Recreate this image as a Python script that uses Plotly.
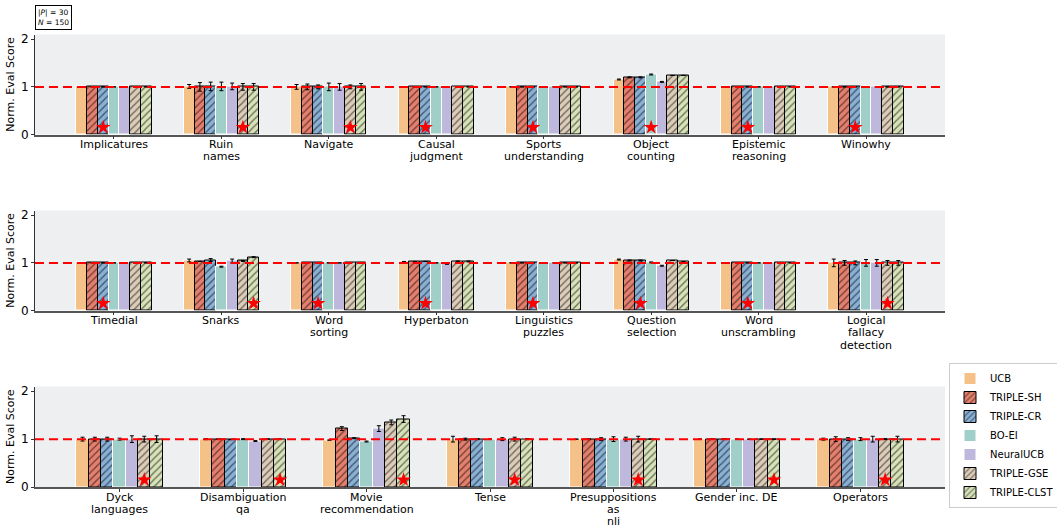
import plotly.graph_objects as go

# Methods compared in every panel
methods = ["UCB", "TRIPLE-SH", "TRIPLE-CR", "BO-EI", "NeuralUCB", "TRIPLE-GSE", "TRIPLE-CLST"]
colors = ["#f4c188", "#e5806e", "#89b0d5", "#a0cfca", "#beb8dc", "#dccdb9", "#d7e2b9"]
hatched = [False, True, True, False, False, True, True]

# Row 1 tasks
r1_tasks = ["Implicatures", "Ruin<br>names", "Navigate", "Causal<br>judgment", "Sports<br>understanding",
            "Object<br>counting", "Epistemic<br>reasoning", "Winowhy"]
r1_mean = [
    [1.0, 1.01, 1.0, 1.0, 1.0, 1.155, 1.0, 1.0],
    [1.0, 1.0, 1.0, 1.0, 1.0, 1.20, 1.0, 1.0],
    [1.0, 1.01, 1.0, 1.0, 1.0, 1.20, 1.0, 1.0],
    [1.0, 1.01, 1.0, 1.0, 1.0, 1.26, 1.0, 1.0],
    [1.0, 1.01, 1.0, 1.0, 1.0, 1.105, 1.0, 1.0],
    [1.0, 1.0, 1.0, 1.0, 1.0, 1.24, 1.0, 1.0],
    [1.0, 1.0, 1.0, 1.0, 1.0, 1.24, 1.0, 1.0],
]
r1_err = [
    [0.0, 0.04, 0.05, 0.0, 0.0, 0.01, 0.0, 0.0],
    [0.0, 0.09, 0.06, 0.0, 0.0, 0.01, 0.0, 0.0],
    [0.0, 0.09, 0.04, 0.0, 0.0, 0.01, 0.0, 0.0],
    [0.0, 0.09, 0.08, 0.0, 0.0, 0.01, 0.0, 0.0],
    [0.0, 0.07, 0.07, 0.0, 0.0, 0.01, 0.0, 0.0],
    [0.0, 0.07, 0.04, 0.0, 0.0, 0.0, 0.0, 0.0],
    [0.0, 0.07, 0.07, 0.0, 0.0, 0.0, 0.0, 0.0],
]
r1_best = [2, 5, 5, 2, 2, 3, 2, 2]

# Row 2 tasks
r2_tasks = ["Timedial", "Snarks", "Word<br>sorting", "Hyperbaton", "Linguistics<br>puzzles",
            "Question<br>selection", "Word<br>unscrambling", "Logical<br>fallacy<br>detection"]
r2_mean = [
    [1.0, 1.05, 1.0, 1.02, 1.0, 1.07, 1.0, 1.0],
    [1.0, 1.03, 1.0, 1.02, 1.0, 1.05, 1.0, 1.0],
    [1.0, 1.06, 1.0, 1.03, 1.0, 1.05, 1.0, 1.0],
    [1.0, 0.92, 1.0, 1.0, 1.0, 1.01, 1.0, 1.0],
    [1.0, 1.04, 1.0, 0.98, 1.0, 0.94, 1.0, 1.0],
    [1.0, 1.04, 1.0, 1.03, 1.0, 1.05, 1.0, 1.0],
    [1.0, 1.12, 1.0, 1.03, 1.0, 1.02, 1.0, 1.0],
]
r2_err = [
    [0.0, 0.03, 0.0, 0.01, 0.0, 0.01, 0.0, 0.08],
    [0.0, 0.0, 0.0, 0.0, 0.0, 0.01, 0.0, 0.05],
    [0.0, 0.03, 0.0, 0.0, 0.0, 0.01, 0.0, 0.04],
    [0.0, 0.01, 0.0, 0.0, 0.0, 0.01, 0.0, 0.07],
    [0.0, 0.04, 0.0, 0.01, 0.0, 0.01, 0.0, 0.07],
    [0.0, 0.01, 0.0, 0.01, 0.0, 0.0, 0.0, 0.05],
    [0.0, 0.01, 0.0, 0.01, 0.0, 0.01, 0.0, 0.05],
]
r2_best = [2, 6, 2, 2, 2, 2, 2, 5]

# Row 3 tasks
r3_tasks = ["Dyck<br>languages", "Disambiguation<br>qa", "Movie<br>recommendation", "Tense",
            "Presuppositions<br>as<br>nli", "Gender inc. DE", "Operators"]
r3_mean = [
    [1.0, 1.0, 0.98, 1.0, 1.0, 1.0, 1.0],
    [1.0, 1.0, 1.22, 1.0, 1.0, 1.0, 1.0],
    [1.0, 0.99, 1.02, 1.0, 1.0, 1.0, 1.0],
    [1.0, 1.0, 0.95, 1.0, 1.0, 1.0, 1.0],
    [1.0, 0.96, 1.22, 1.0, 1.0, 1.0, 1.0],
    [1.0, 1.0, 1.35, 1.0, 1.0, 1.0, 1.0],
    [1.0, 1.0, 1.42, 1.0, 1.0, 1.0, 1.0],
]
r3_err = [
    [0.04, 0.01, 0.0, 0.06, 0.0, 0.0, 0.02],
    [0.04, 0.0, 0.04, 0.02, 0.01, 0.0, 0.05],
    [0.04, 0.0, 0.01, 0.01, 0.03, 0.0, 0.03],
    [0.02, 0.01, 0.01, 0.0, 0.05, 0.0, 0.03],
    [0.07, 0.01, 0.06, 0.03, 0.04, 0.0, 0.06],
    [0.06, 0.0, 0.05, 0.04, 0.06, 0.0, 0.01],
    [0.07, 0.0, 0.07, 0.01, 0.0, 0.0, 0.06],
]
r3_best = [5, 6, 6, 5, 5, 6, 5]

star_y = 0.15
bar_w = 0.1
rows = [
    (r1_tasks, r1_mean, r1_err, r1_best),
    (r2_tasks, r2_mean, r2_err, r2_best),
    (r3_tasks, r3_mean, r3_err, r3_best),
]

W, H = 1057, 527
ml, mr, mt, mb = 35, 112, 34, 40
plot_h = H - mt - mb


def ydom(top_px, bot_px):
    return [(H - mb - bot_px) / plot_h, (H - mb - top_px) / plot_h]


domains = [ydom(34.5, 134.5), ydom(210.5, 310.5), ydom(386.5, 487)]

fig = go.Figure()
font = dict(family="DejaVu Sans", size=11, color="#000000")
line_gap = 12.2  # px between lines of a category label

for r, (tasks, mean, err, best) in enumerate(rows):
    sfx = "" if r == 0 else str(r + 1)
    xa, ya = "x" + sfx, "y" + sfx
    n = len(tasks)
    for k, name in enumerate(methods):
        off = (k - 3) * bar_w
        marker = dict(color=colors[k],
                      line=dict(color="#000000" if hatched[k] else "#ffffff", width=1))
        if hatched[k]:
            marker["pattern"] = dict(shape="/", fgcolor="#000000", fillmode="overlay",
                                     size=5, solidity=0.28)
        fig.add_trace(go.Bar(
            x=[i + off for i in range(n)], y=mean[k], width=bar_w,
            marker=marker, name=name, legendgroup=name, showlegend=(r == 0),
            error_y=dict(type="data", array=err[k], color="#000000", thickness=1, width=2),
            xaxis=xa, yaxis=ya,
        ))
    fig.add_trace(go.Scatter(
        x=[i + (best[i] - 3) * bar_w for i in range(n)], y=[star_y] * n,
        mode="markers", marker=dict(symbol="star", size=11, color="#ff0000", line=dict(width=0)),
        showlegend=False, xaxis=xa, yaxis=ya, hoverinfo="skip",
    ))
    # reference level of 1.0
    fig.add_shape(type="line", xref=xa + " domain", yref=ya, x0=0, x1=1, y0=1, y1=1,
                  line=dict(color="#ff0000", width=2, dash="9px,5px"), layer="above")
    # category names, one text line per annotation for tight line spacing
    for i, label in enumerate(tasks):
        for j, part in enumerate(label.split("<br>")):
            fig.add_annotation(
                xref=xa, yref=ya + " domain", x=i, y=0, xanchor="center", yanchor="middle",
                yshift=-(10.2 + line_gap * j), text=part, showarrow=False, font=font,
                borderpad=0, height=11,
            )
    pad = 0.35 + 0.05 * (n - 1 + 0.7)
    xkey = "xaxis" + sfx
    ykey = "yaxis" + sfx
    fig.layout[xkey] = dict(
        domain=[0, 1], anchor=ya, range=[-pad, n - 1 + pad],
        tickmode="array", tickvals=list(range(n)), showticklabels=False,
        ticks="outside", ticklen=3, tickcolor="#333333",
        showline=True, linecolor="#555555", linewidth=1.5, showgrid=False, zeroline=False,
        automargin=False,
    )
    fig.layout[ykey] = dict(
        domain=domains[r], anchor=xa, range=[0, 2.1],
        tickvals=[0, 1, 2], ticks="outside", ticklen=3, tickcolor="#333333",
        showline=True, linecolor="#333333", linewidth=1, showgrid=False, zeroline=False,
        tickfont=dict(family="DejaVu Sans", size=12, color="#000000"),
        title=dict(text="Norm. Eval Score", font=font, standoff=4), automargin=False,
    )

fig.add_annotation(
    xref="paper", yref="paper", x=(53 - ml) / (W - ml - mr), y=(H - mb - 17) / plot_h,
    xanchor="center", yanchor="middle",
    text="|<i>P</i>| = 30<br><i>N</i> = 150", showarrow=False,
    font=dict(family="DejaVu Sans", size=7.5, color="#000000"),
    bordercolor="#000000", borderwidth=1, borderpad=2, bgcolor="#ffffff", align="left",
)

fig.update_layout(
    width=W, height=H,
    margin=dict(l=ml, r=mr, t=mt, b=mb, autoexpand=False),
    paper_bgcolor="#ffffff", plot_bgcolor="#eeeff1",
    barmode="overlay", bargap=0,
    font=font,
    legend=dict(
        xref="container", yref="container",
        x=949 / W, y=1 - 435.5 / H,
        xanchor="left", yanchor="middle",
        bordercolor="#cccccc", borderwidth=1, bgcolor="#ffffff",
        font=dict(family="DejaVu Sans", size=10, color="#000000"),
        tracegroupgap=0, itemwidth=30,
    ),
    showlegend=True,
)

fig.write_html("out.html")
